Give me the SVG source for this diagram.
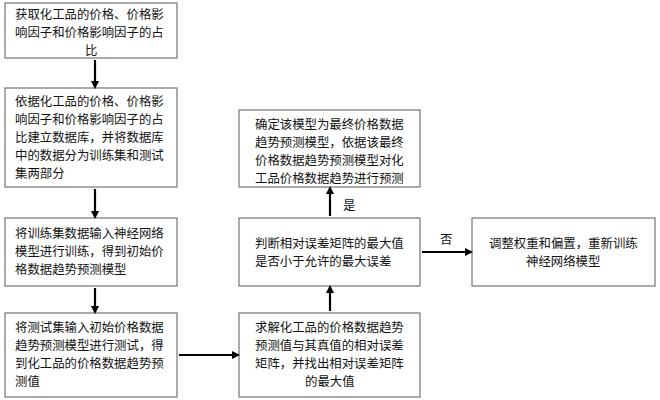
<svg xmlns="http://www.w3.org/2000/svg" width="660" height="400" viewBox="0 0 660 400">
<style>
.b{fill:#fff;stroke:#7f7f7f;stroke-width:1.3}
.t{font-family:"Noto Sans CJK SC","Liberation Sans",sans-serif;font-size:12.4px;fill:#111}
.c{stroke:#000;stroke-width:2.2;fill:none;marker-end:url(#a)}
</style>
<defs><marker id="a" markerWidth="8" markerHeight="8" refX="6" refY="4" orient="auto" markerUnits="userSpaceOnUse"><path d="M0,0L8,4L0,8z" fill="#000"/></marker></defs>
<rect width="660" height="400" fill="#fff"/>
<g id="n1"><rect class="b" x="5" y="3" width="172" height="55"/><text class="t" x="15" y="19">获取化工品的价格、价格影</text><text class="t" x="15" y="37">响因子和价格影响因子的占</text><text class="t" x="85" y="55">比</text></g>
<g id="n2"><rect class="b" x="5" y="88" width="172" height="99"/><text class="t" x="15" y="106">依据化工品的价格、价格影</text><text class="t" x="15" y="124">响因子和价格影响因子的占</text><text class="t" x="15" y="142">比建立数据库，并将数据库</text><text class="t" x="15" y="160">中的数据分为训练集和测试</text><text class="t" x="15" y="178">集两部分</text></g>
<g id="n3"><rect class="b" x="5" y="218" width="172" height="68"/><text class="t" x="15" y="238">将训练集数据输入神经网络</text><text class="t" x="15" y="256">模型进行训练，得到初始价</text><text class="t" x="15" y="274">格数据趋势预测模型</text></g>
<g id="n4"><rect class="b" x="5" y="313" width="172" height="84"/><text class="t" x="15" y="332">将测试集输入初始价格数据</text><text class="t" x="15" y="350">趋势预测模型进行测试，得</text><text class="t" x="15" y="368">到化工品的价格数据趋势预</text><text class="t" x="15" y="386">测值</text></g>
<g id="n5"><rect class="b" x="239" y="313" width="181" height="84"/><text class="t" x="255" y="332">求解化工品的价格数据趋势</text><text class="t" x="255" y="350">预测值与其真值的相对误差</text><text class="t" x="255" y="368">矩阵，并找出相对误差矩阵</text><text class="t" x="305" y="386">的最大值</text></g>
<g id="n6"><rect class="b" x="239" y="218" width="181" height="68"/><text class="t" x="255" y="248">判断相对误差矩阵的最大值</text><text class="t" x="255" y="266">是否小于允许的最大误差</text></g>
<g id="n7"><rect class="b" x="239" y="110" width="181" height="77"/><text class="t" x="255" y="129">确定该模型为最终价格数据</text><text class="t" x="255" y="147">趋势预测模型，依据该最终</text><text class="t" x="255" y="165">价格数据趋势预测模型对化</text><text class="t" x="255" y="183">工品价格数据趋势进行预测</text></g>
<g id="n8"><rect class="b" x="472" y="218" width="183" height="68"/><text class="t" x="489" y="248">调整权重和偏置，重新训练</text><text class="t" x="526" y="266">神经网络模型</text></g>
<g id="connectors">
<path class="c" d="M95,60V87"/>
<path class="c" d="M95,189V217"/>
<path class="c" d="M95,288V312"/>
<path class="c" d="M179,355H238"/>
<path class="c" d="M330,311V287"/>
<path class="c" d="M330,216V188"/>
<path class="c" d="M422,252H471"/>
<text class="t" x="343" y="210">是</text>
<text class="t" x="440" y="244">否</text>
</g>
</svg>
